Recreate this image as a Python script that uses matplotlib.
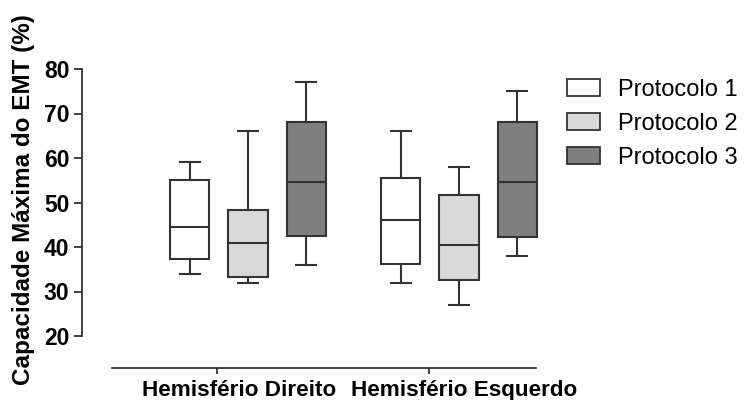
import matplotlib
matplotlib.use('Agg')
import matplotlib.pyplot as plt
from matplotlib.patches import Patch

plt.rcParams['font.family'] = ['Liberation Sans', 'DejaVu Sans']

# Box statistics per protocol, one entry per hemisphere (Direito, Esquerdo)
groups = ['Hemisfério Direito', 'Hemisfério Esquerdo']
protocols = ['Protocolo 1', 'Protocolo 2', 'Protocolo 3']
whislo = [[34, 32], [32, 27], [36, 38]]
q1 = [[37.2, 36.2], [33.2, 32.6], [42.5, 42.2]]
med = [[44.5, 46.0], [41.0, 40.5], [54.5, 54.5]]
q3 = [[55.0, 55.5], [48.4, 51.7], [68.2, 68.0]]
whishi = [[59, 66], [66, 58], [77, 75]]
fills = ['#ffffff', '#d9d9d9', '#7f7f7f']

yticks = [20, 30, 40, 50, 60, 70, 80]
ylabel = 'Capacidade Máxima do EMT (%)'

edge = '#333333'
W, H = 744, 400
left_px, right_px = 82, 730
ppu = 211.0  # pixels per group step
fig = plt.figure(figsize=(W / 100, H / 100), dpi=100)
ax = fig.add_axes([left_px / W, 1 - 367.5 / H, (right_px - left_px) / W, (367.5 - 69) / H])

offsets = [-0.275, 0.0, 0.275]
for p in range(len(protocols)):
    stats = []
    for g in range(len(groups)):
        stats.append(dict(whislo=whislo[p][g], q1=q1[p][g], med=med[p][g],
                          q3=q3[p][g], whishi=whishi[p][g], fliers=[]))
    pos = [g + 1 + offsets[p] for g in range(len(groups))]
    ax.bxp(stats, positions=pos, widths=0.185, patch_artist=True, showfliers=False,
           boxprops=dict(facecolor=fills[p], edgecolor=edge, linewidth=1.5),
           medianprops=dict(color=edge, linewidth=1.5),
           whiskerprops=dict(color=edge, linewidth=1.5),
           capprops=dict(color=edge, linewidth=1.5), capwidths=0.095)

xmin = 1 - (248 - left_px) / ppu
ax.set_xlim(xmin, xmin + (right_px - left_px) / ppu)
ax.set_ylim(20 - (367.5 - 336) / 4.45, 80)

for s in ['top', 'right']:
    ax.spines[s].set_visible(False)
ax.spines['left'].set_bounds(20, 80)
ax.spines['bottom'].set_bounds(0.355, 2.365)
for s in ['left', 'bottom']:
    ax.spines[s].set_linewidth(1.3)
    ax.spines[s].set_color(edge)

ax.set_yticks(yticks)
ax.set_yticklabels([str(v) for v in yticks], fontsize=16.5, fontweight='bold')
ax.tick_params(axis='y', length=6, width=1.3, color=edge, pad=3)

# tick marks and group labels sit at slightly different positions
ax.set_xticks([0.853, 1.858], minor=True)
ax.tick_params(axis='x', which='minor', length=4, width=1.3, color=edge)
ax.set_xticks([0.957, 2.024])
ax.set_xticklabels(groups, fontsize=16.2, fontweight='bold')
ax.tick_params(axis='x', which='major', length=0, pad=9)

fig.text(24 / W, 0.5, ylabel, rotation=90, ha='center', va='center',
         fontsize=17.5, fontweight='bold')

handles = [Patch(facecolor=c, edgecolor=edge, linewidth=1.3) for c in fills]
fig.legend(handles, protocols, loc='upper left', bbox_to_anchor=(567 / W, 1 - 79 / H),
           frameon=False, fontsize=17, handlelength=1.4, handleheight=0.7,
           handletextpad=0.75, labelspacing=0.5, borderpad=0, borderaxespad=0)

fig.savefig('out.png', dpi=100)
